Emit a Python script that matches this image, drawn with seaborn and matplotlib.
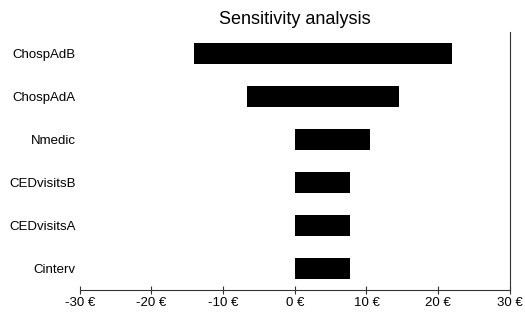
import matplotlib
matplotlib.use("Agg")
import matplotlib.pyplot as plt
import seaborn as sns
import pandas as pd

categories = ["ChospAdB", "ChospAdA", "Nmedic", "CEDvisitsB", "CEDvisitsA", "Cinterv"]
low_values = [-14.1, -6.7, 0.0, 0.0, 0.0, 0.0]
high_values = [21.9, 14.5, 10.5, 7.7, 7.7, 7.7]
tick_values = [-30, -20, -10, 0, 10, 20, 30]
tick_labels = ["-30 €", "-20 €", "-10 €", "0 €", "10 €", "20 €", "30 €"]

df = pd.DataFrame({"param": categories, "low": low_values, "high": high_values})

sns.set_theme(style="white")
plt.rcParams["font.family"] = ["Liberation Sans", "DejaVu Sans"]
plt.rcParams["text.color"] = "black"
plt.rcParams["xtick.color"] = "black"
plt.rcParams["ytick.color"] = "black"

fig = plt.figure(figsize=(5.25, 3.15), dpi=100)
ax = fig.add_axes([0.152, 0.079, 0.819, 0.819])

sns.barplot(data=df, x="high", y="param", orient="h", color="black",
            width=0.5, ax=ax, linewidth=0)
sns.barplot(data=df, x="low", y="param", orient="h", color="black",
            width=0.5, ax=ax, linewidth=0)

ax.set_xlim(-30, 30)
ax.set_ylim(5.5, -0.5)
ax.set_xticks(tick_values)
ax.set_xticklabels(tick_labels, fontsize=9.5)
ax.tick_params(axis="x", direction="inout", length=6, width=0.8, color="#333333", pad=2, bottom=True)
ax.tick_params(axis="y", length=0, labelsize=9.5, pad=3)
ax.set_xlabel("")
ax.set_ylabel("")
ax.set_title("Sensitivity analysis", fontsize=13, pad=6, color="black")

for s in ["left", "top"]:
    ax.spines[s].set_visible(False)
for s in ["bottom", "right"]:
    ax.spines[s].set_visible(True)
    ax.spines[s].set_color("#333333")
    ax.spines[s].set_linewidth(0.8)

fig.savefig("out.png", dpi=100)
